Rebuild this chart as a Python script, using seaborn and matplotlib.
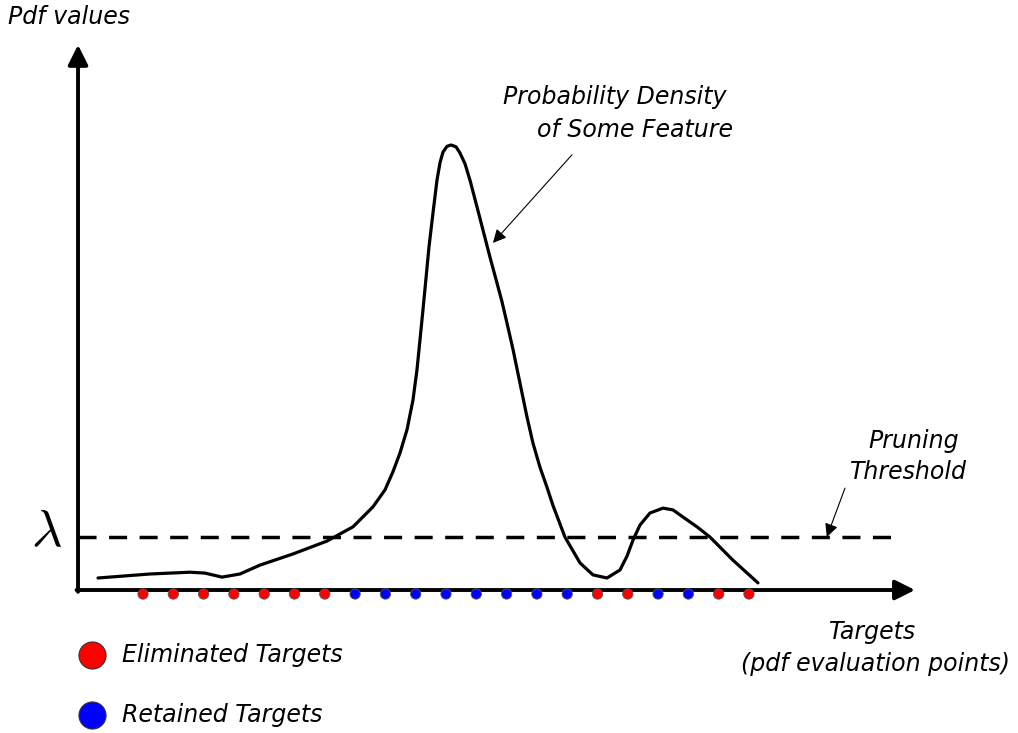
import numpy as np
import pandas as pd
import seaborn as sns
import matplotlib.pyplot as plt

# Probability density curve (x in target-index units, y in pdf units, peak = 1)
curve_x = [-0.485, 1.231, 2.551, 3.046, 3.607, 4.201, 4.861, 5.950, 7.073,
           7.931, 8.591, 8.987, 9.251, 9.482, 9.713, 9.911, 10.043, 10.142,
           10.241, 10.340, 10.439, 10.571, 10.703, 10.802, 10.901, 11.033,
           11.165, 11.330, 11.462, 11.627, 11.792, 12.023, 12.221, 12.452,
           12.683, 12.848, 13.013, 13.211, 13.442, 13.673, 13.871, 14.102,
           14.333, 14.531, 14.927, 15.422, 15.851, 16.314, 16.743, 16.974,
           17.172, 17.403, 17.733, 18.162, 18.492, 18.822, 19.284, 19.713,
           20.472, 21.297]
curve_y = [0.027, 0.036, 0.040, 0.038, 0.029, 0.036, 0.056, 0.081, 0.110,
           0.142, 0.187, 0.225, 0.266, 0.308, 0.360, 0.427, 0.495, 0.562,
           0.630, 0.700, 0.771, 0.847, 0.921, 0.960, 0.984, 0.997, 1.000,
           0.996, 0.982, 0.958, 0.921, 0.861, 0.809, 0.748, 0.690, 0.648,
           0.600, 0.541, 0.465, 0.389, 0.330, 0.276, 0.231, 0.190, 0.119,
           0.061, 0.034, 0.027, 0.045, 0.076, 0.112, 0.146, 0.173, 0.184,
           0.180, 0.164, 0.142, 0.119, 0.067, 0.016]

# Targets (pdf evaluation points) and whether they survive pruning
targets = list(range(1, 22))
status = ['Eliminated'] * 7 + ['Retained'] * 8 + ['Eliminated'] * 2 + \
         ['Retained'] * 2 + ['Eliminated'] * 2
threshold = 0.119

palette = {'Eliminated': '#ff0000', 'Retained': '#0000ff'}

# diagram extents (data units)
x_origin, x_end = -1.145, 26.48
y_end = 1.225
dash_end = 25.72

sns.set_theme(style='white')
plt.rcParams['font.family'] = ['DejaVu Sans']
plt.rcParams['mathtext.fontset'] = 'cm'

fig = plt.figure(figsize=(10.18, 7.33), dpi=100)
ax = fig.add_axes([0, 0, 1, 1])
ax.set_xlim(-3.72, 29.88)
ax.set_ylim(-0.3213, 1.3258)
ax.set_axis_off()

# axes with arrow heads
arrow_kw = dict(arrowstyle='-|>', color='black', lw=2.8, mutation_scale=30,
                shrinkA=0, shrinkB=0)
ax.annotate('', xy=(x_end, 0), xytext=(x_origin - 0.05, 0), arrowprops=arrow_kw)
ax.annotate('', xy=(x_origin, y_end), xytext=(x_origin, -0.004), arrowprops=arrow_kw)

# threshold
ax.plot([x_origin, dash_end], [threshold, threshold], color='black', lw=2.5,
        linestyle=(0, (5.2, 3.6)), solid_capstyle='butt')

# density curve
df_curve = pd.DataFrame({'x': curve_x, 'y': curve_y})
sns.lineplot(data=df_curve, x='x', y='y', sort=False, color='black', lw=2.3,
             ax=ax, solid_joinstyle='round', solid_capstyle='round')

# target dots
df_t = pd.DataFrame({'t': targets, 'y': -0.009, 'status': status})
sns.scatterplot(data=df_t, x='t', y='y', hue='status', palette=palette,
                s=55, edgecolor='#555555', linewidth=0.6, legend=False, ax=ax,
                zorder=5)

# legend drawn by hand
for yy, lab in [(-0.146, 'Eliminated Targets'), (-0.281, 'Retained Targets')]:
    key = lab.split()[0]
    ax.scatter([-0.68], [yy], s=380, color=palette[key], edgecolor='#333333',
               linewidth=0.8, zorder=5)
    ax.text(0.307, yy, lab, fontsize=17, style='italic', ha='left',
            va='center', color='black')

txt = dict(fontsize=17, style='italic', va='center', color='black')
ax.text(-3.455, 1.288, 'Pdf values', ha='left', **txt)
ax.text(20.27, 1.108, 'Probability Density', ha='right', **txt)
ax.text(20.47, 1.034, 'of Some Feature', ha='right', **txt)
ax.text(26.45, 0.335, 'Pruning', ha='center', **txt)
ax.text(26.28, 0.265, 'Threshold', ha='center', **txt)
ax.text(25.09, -0.094, 'Targets', ha='center', **txt)
ax.text(25.19, -0.166, '(pdf evaluation points)', ha='center', **txt)
ax.text(-2.20, 0.133, r'$\lambda$', fontsize=38, ha='center', va='center',
        color='black')

thin = dict(arrowstyle='-|>', color='black', lw=0.8, mutation_scale=20,
            shrinkA=0, shrinkB=0)
ax.annotate('', xy=(12.55, 0.780), xytext=(15.16, 0.978), arrowprops=thin)
ax.annotate('', xy=(23.57, 0.119), xytext=(24.17, 0.229), arrowprops=thin)

fig.savefig('out.png', dpi=100)
